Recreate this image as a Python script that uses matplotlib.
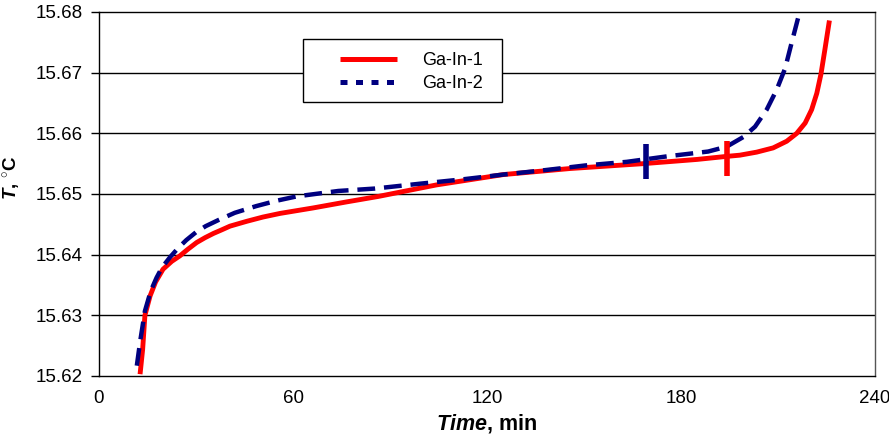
import matplotlib
matplotlib.use("Agg")
import matplotlib.pyplot as plt
from matplotlib.lines import Line2D
from matplotlib.patches import Rectangle

plt.rcParams['font.family'] = ['Liberation Sans', 'DejaVu Sans']
plt.rcParams['mathtext.fontset'] = 'custom'
plt.rcParams['mathtext.it'] = 'Liberation Sans:italic:bold'
plt.rcParams['mathtext.rm'] = 'Liberation Sans:bold'
plt.rcParams['mathtext.bf'] = 'Liberation Sans:bold'

# ---- data ----
t1 = [12.7, 13.5, 14.2, 15.8, 17.5, 19.8, 22.5, 25.0, 27.5, 30.2, 32.8, 35.4,
      38.0, 40.5, 45.7, 50.7, 56.0, 66.2, 76.6, 86.4, 104.4, 125.0, 145.7,
      168.3, 185.0, 194.1, 198.2, 203.4, 208.5, 212.7, 215.8, 218.4, 220.4,
      222.0, 223.3, 224.5, 225.9]
T1 = [15.6203, 15.6244, 15.6300, 15.6332, 15.6355, 15.6376, 15.6389, 15.6398,
      15.6409, 15.6420, 15.6428, 15.6435, 15.6441, 15.6447, 15.6455, 15.6462,
      15.6468, 15.6477, 15.6487, 15.6496, 15.6515, 15.6532, 15.6542, 15.6550,
      15.6557, 15.6562, 15.6564, 15.6569, 15.6576, 15.6587, 15.6600, 15.6617,
      15.6639, 15.6666, 15.6698, 15.6738, 15.6786]

t2 = [11.7, 12.7, 14.2, 16.0, 17.8, 19.5, 22.0, 24.5, 27.0, 30.0, 33.0, 36.9,
      42.0, 48.6, 55.0, 61.1, 74.0, 85.4, 99.3, 112.2, 125.0, 137.4, 150.3,
      163.2, 175.6, 188.4, 194.1, 199.3, 202.9, 206.5, 209.6, 212.2, 214.2,
      216.6, 217.2]
T2 = [15.6217, 15.6256, 15.6307, 15.6340, 15.6362, 15.6379, 15.6396, 15.6411,
      15.6424, 15.6437, 15.6447, 15.6457, 15.6469, 15.6480, 15.6489, 15.6496,
      15.6505, 15.6509, 15.6517, 15.6524, 15.6532, 15.6539, 15.6547, 15.6553,
      15.6562, 15.6570, 15.6578, 15.6594, 15.6611, 15.6639, 15.6672, 15.6707,
      15.6749, 15.6798, 15.6810]

mark1_t = [194.3, 194.3]
mark1_T = [15.6530, 15.6587]
mark2_t = [169.2, 169.2]
mark2_T = [15.6525, 15.6583]

labels = ['Ga-In-1', 'Ga-In-2']
xticks = [0, 60, 120, 180, 240]
yticks = [15.62, 15.63, 15.64, 15.65, 15.66, 15.67, 15.68]

RED = '#FF0000'
BLUE = '#000080'

fig = plt.figure(figsize=(8.89, 4.38), dpi=100)
ax = fig.add_axes([99/889, 1-376/438, 776/889, 364/438])

for y in yticks[1:-1]:
    ax.axhline(y, color='black', lw=1.0, zorder=1)

ax.plot(t1, T1, color=RED, lw=3.5, zorder=3, solid_capstyle='butt',
        solid_joinstyle='round')
ax.plot(t2, T2, color=BLUE, lw=3.2, zorder=4, dashes=(4, 2), dash_capstyle='butt')
ax.plot(mark2_t, mark2_T, color=BLUE, lw=4.0, zorder=5, solid_capstyle='butt')
ax.plot(mark1_t, mark1_T, color=RED, lw=4.0, zorder=5, solid_capstyle='butt')

ax.set_xlim(0, 240)
ax.set_ylim(15.62, 15.68)
ax.set_xticks(xticks)
ax.set_yticks(yticks)
ax.set_yticklabels([f'{v:.2f}' for v in yticks])
ax.tick_params(axis='x', length=0, pad=10, labelsize=13.5)
ax.tick_params(axis='y', direction='out', length=6, width=1, pad=6, labelsize=13.5)

for s in ax.spines.values():
    s.set_color('black')
    s.set_linewidth(1.0)
ax.spines['right'].set_color('#555555')

ax.set_xlabel(r'$\mathit{Time}$, min', fontsize=15.5, fontweight='bold')
ax.set_ylabel(r'$\mathit{T}$, $^{\circ}$C', fontsize=13.5, fontweight='bold')
ax.xaxis.set_label_coords(0.5, (376-412)/364)
ax.yaxis.set_label_coords((23-99)/776, (376-178)/364)

# legend box
rect = Rectangle((303/889, 1-102/438), 199/889, 63/438, transform=fig.transFigure,
                 facecolor='white', edgecolor='black', lw=1.0, zorder=6)
fig.add_artist(rect)
handles = [Line2D([], [], color=RED, lw=3.6, solid_capstyle='butt'),
           Line2D([], [], color=BLUE, lw=3.6, dashes=(1.4, 1.7), dash_capstyle='butt')]
leg = fig.legend(handles, labels, loc='upper left',
                 bbox_to_anchor=(340/889, 1-52/438), frameon=False,
                 fontsize=13, handlelength=3.16, handletextpad=1.38,
                 borderpad=0, borderaxespad=0, labelspacing=0.36)
leg.set_zorder(7)

fig.savefig('out.png', dpi=100)
